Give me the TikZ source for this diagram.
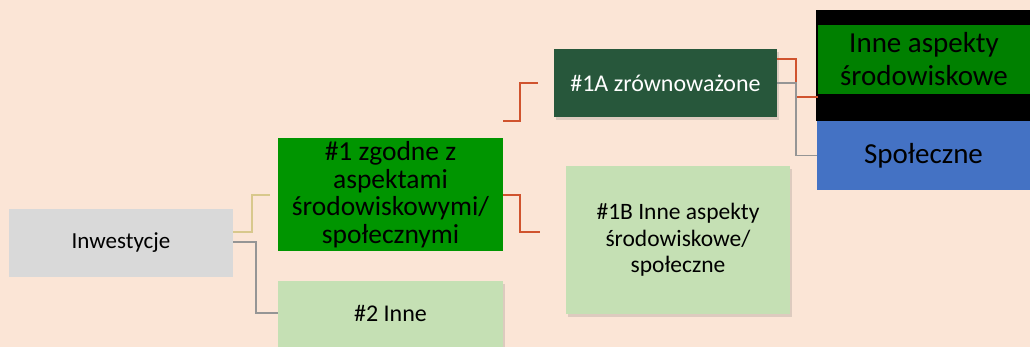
\documentclass[tikz,border=0pt]{standalone}
\usepackage{fontspec}
\setmainfont{Carlito}
\usetikzlibrary{shadows,calc}
\definecolor{bgpeach}{HTML}{FBE5D6}
\definecolor{boxgray}{HTML}{D9D9D9}
\definecolor{brightgreen}{HTML}{009500}
\definecolor{midgreen}{HTML}{008000}
\definecolor{darkgreen}{HTML}{27573B}
\definecolor{lightgreen}{HTML}{C5E0B4}
\definecolor{bluebox}{HTML}{4472C4}
\definecolor{redline}{HTML}{D0532E}
\definecolor{tanline}{HTML}{D8C88C}
\definecolor{grayline}{HTML}{959595}
\tikzset{
  box/.style={rectangle, inner sep=0pt, align=center, text=black},
  shad/.style={drop shadow={shadow xshift=1.5pt, shadow yshift=-3pt, opacity=0.2, fill=black!60}},
  conn/.style={line width=1.5pt},
}
\begin{document}
\begin{tikzpicture}[x=1pt, y=-1pt]
\fill[bgpeach] (0,0) rectangle (1030,347);
\useasboundingbox (0,0) rectangle (1030,347);
\begin{scope}
\clip (0,0) rectangle (1030,347);
% nodes
\node[box, fill=boxgray, minimum width=224pt, minimum height=68pt,
  font=\fontsize{23}{27}\selectfont] (inv) at (121,243) {Inwestycje};
\node[box, fill=brightgreen, minimum width=225pt, minimum height=113pt,
  font=\fontsize{27.5}{27.5}\selectfont] (n1) at (390.5,194.5)
  {\#1 zgodne z\\aspektami\\środowiskowymi/\\społecznymi};
\node[box, fill=lightgreen, shad, minimum width=225pt, minimum height=70pt] (n2) at (390.5,316) {};
\node[font=\fontsize{24}{28}\selectfont, inner sep=0pt] (n2t) at (390.5,313) {\#2 Inne};
\node[box, fill=darkgreen, shad, text=white, minimum width=223pt, minimum height=68pt,
  font=\fontsize{24}{28}\selectfont] (n1a) at (665.5,83) {\#1A zrównoważone};
\node[box, fill=lightgreen, shad, minimum width=224pt, minimum height=148pt,
  font=\fontsize{23.5}{26.5}\selectfont] (n1b) at (678,240)
  {\#1B Inne aspekty\\środowiskowe/\\społeczne};
\node[box, fill=black, minimum width=214pt, minimum height=111pt] (blk) at (923,65.5) {};
\node[box, fill=midgreen, minimum width=212pt, minimum height=69pt,
  font=\fontsize{29}{33}\selectfont] (inne) at (924,59.5)
  {Inne aspekty\\środowiskowe};
\node[box, fill=bluebox, minimum width=213pt, minimum height=69pt,
  font=\fontsize{29}{33}\selectfont] (spol) at (923.5,155.5) {Społeczne};
% connector end coordinates
\coordinate (a1) at (inv.east |- 0,232);
\coordinate (a2) at (270,195);
\coordinate (b1) at (inv.east |- 0,242);
\coordinate (c1) at (n1.east |- 0,121);
\coordinate (c2) at (538,83);
\coordinate (d1) at (n1.east |- 0,195);
\coordinate (d2) at (540,232);
\coordinate (e1) at (n1a.east |- 0,59);
\coordinate (e2) at (inne.west |- 0,97);
\coordinate (f1) at (n1a.east);
% connectors
\draw[conn, tanline] (a1) -| (252,213.5) |- (a2);
\draw[conn, grayline] (b1) -| (256,278) |- (n2.west |- n2t);
\draw[conn, redline] (c1) -| (520,102) |- (c2);
\draw[conn, redline] (d1) -| (520,213.5) |- (d2);
\draw[conn, redline] (e1) -| (796,78) |- (e2);
\draw[conn, grayline] (f1) -| (796,119) |- (spol.west);
\end{scope}
\end{tikzpicture}
\end{document}
